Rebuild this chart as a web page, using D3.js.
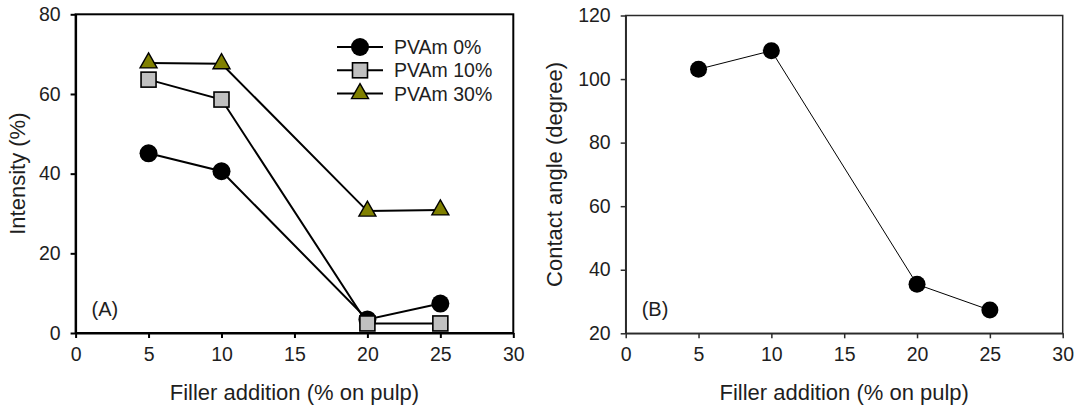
<!DOCTYPE html>
<html>
<head>
<meta charset="utf-8">
<title>Intensity and contact angle vs filler addition</title>
<style type="text/css">
  body { margin: 0; background: #fff; }
  svg text { font-family: "Liberation Sans", Arial, sans-serif; fill: #1e1e1e; }
</style>
</head>
<body>
<script src="https://d3js.org/d3.v7.min.js"></script>
<script type="text/javascript">
// data
const filler = [5, 10, 20, 25];
const pvam0 = [45.1, 40.6, 3.4, 7.4];
const pvam10 = [63.6, 58.6, 2.4, 2.4];
const pvam30 = [67.8, 67.6, 30.6, 30.9];
const seriesNames = ["PVAm 0%", "PVAm 10%", "PVAm 30%"];
const contactAngle = [103.1, 108.9, 35.4, 27.3];

const xTicks = [0, 5, 10, 15, 20, 25, 30];
const yTicksA = [0, 20, 40, 60, 80];
const yTicksB = [20, 40, 60, 80, 100, 120];
const xTitle = "Filler addition (% on pulp)";

const W = 1081, H = 409;
const svg = d3.select("body").append("svg")
  .attr("width", W).attr("height", H);
svg.append("rect").attr("width", W).attr("height", H).attr("fill", "#fff");

// marker shapes
function marker(g, shape, x, y, r) {
  if (shape === "circle") {
    g.append("circle").attr("cx", x).attr("cy", y).attr("r", r).attr("fill", "#000");
  } else if (shape === "square") {
    g.append("rect").attr("x", x - 7.5).attr("y", y - 7.5).attr("width", 15).attr("height", 15)
      .attr("fill", "#c0c0c0").attr("stroke", "#000").attr("stroke-width", 1.6);
  } else {
    g.append("path").attr("d", `M${x},${y - 10}L${x + 8.5},${y + 5}L${x - 8.5},${y + 5}Z`)
      .attr("fill", "#808000").attr("stroke", "#000").attr("stroke-width", 1.4);
  }
}

function panel(opt) {
  const x = d3.scaleLinear().domain([0, 30]).range([opt.left, opt.right]);
  const y = d3.scaleLinear().domain(opt.yDomain).range([opt.bottom, opt.top]);
  const g = svg.append("g");

  // frame
  g.append("rect")
    .attr("x", opt.left).attr("y", opt.top)
    .attr("width", opt.right - opt.left).attr("height", opt.bottom - opt.top)
    .attr("fill", "none").attr("stroke", opt.axisColor).attr("stroke-width", opt.axisWidth);

  const xa = g.append("g").attr("transform", `translate(0,${opt.bottom})`)
    .call(d3.axisBottom(x).tickValues(xTicks).tickSize(5).tickSizeOuter(0).tickPadding(9));
  const ya = g.append("g").attr("transform", `translate(${opt.left},0)`)
    .call(d3.axisLeft(y).tickValues(opt.yTicks).tickSize(5).tickSizeOuter(0).tickPadding(10));
  [xa, ya].forEach(a => {
    a.selectAll("path,line").attr("stroke", opt.axisColor).attr("stroke-width", opt.axisWidth);
    a.selectAll("text").attr("font-size", 19.5).attr("fill", "#1e1e1e")
      .style("font-family", '"Liberation Sans", Arial, sans-serif');
  });

  // axis titles
  g.append("text")
    .attr("x", (opt.left + opt.right) / 2).attr("y", 400)
    .attr("text-anchor", "middle").attr("font-size", 22)
    .text(xTitle);
  g.append("text")
    .attr("transform", `translate(${opt.yTitleX},${(opt.top + opt.bottom) / 2}) rotate(-90)`)
    .attr("text-anchor", "middle").attr("font-size", 22)
    .text(opt.yTitle);

  // panel tag
  g.append("text").attr("x", opt.left + 16).attr("y", 316)
    .attr("font-size", 20).text(opt.tag);

  return { g, x, y };
}

// ---- panel A ----
const A = panel({
  left: 75.6, right: 513.3, top: 14.3, bottom: 333,
  yDomain: [0, 80], yTicks: yTicksA, axisColor: "#000", axisWidth: 2,
  yTitle: "Intensity (%)", yTitleX: 25, tag: "(A)"
});

const seriesA = [
  { name: seriesNames[0], values: pvam0, shape: "circle" },
  { name: seriesNames[1], values: pvam10, shape: "square" },
  { name: seriesNames[2], values: pvam30, shape: "triangle" }
];
const lineA = d3.line().x((d, i) => A.x(filler[i])).y(d => A.y(d));

seriesA.forEach(s => {
  const sg = A.g.append("g");
  sg.append("path").attr("d", lineA(s.values))
    .attr("fill", "none").attr("stroke", "#000").attr("stroke-width", 2);
  s.values.forEach((v, i) => marker(sg, s.shape, A.x(filler[i]), A.y(v), 9));
});

// legend
const leg = A.g.append("g");
seriesA.forEach((s, i) => {
  const ly = 47 + i * 23.3;
  leg.append("line").attr("x1", 337).attr("x2", 383).attr("y1", ly).attr("y2", ly)
    .attr("stroke", "#000").attr("stroke-width", 2);
  marker(leg, s.shape, 360, ly, 9);
  leg.append("text").attr("x", 394).attr("y", ly + 7).attr("font-size", 19.5).text(s.name);
});

// ---- panel B ----
const B = panel({
  left: 625.7, right: 1062.7, top: 15.5, bottom: 333.3,
  yDomain: [20, 120], yTicks: yTicksB, axisColor: "#2a2a2a", axisWidth: 1.5,
  yTitle: "Contact angle (degree)", yTitleX: 562, tag: "(B)"
});

const lineB = d3.line().x((d, i) => B.x(filler[i])).y(d => B.y(d));
B.g.append("path").attr("d", lineB(contactAngle))
  .attr("fill", "none").attr("stroke", "#000").attr("stroke-width", 1);
contactAngle.forEach((v, i) => marker(B.g, "circle", B.x(filler[i]), B.y(v), 8.5));
</script>
</body>
</html>
